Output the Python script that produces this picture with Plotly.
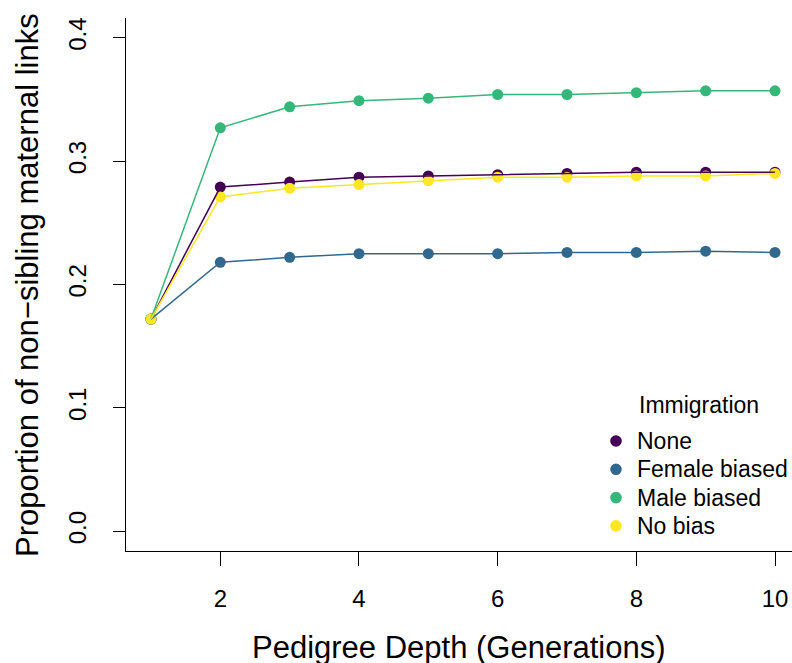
import plotly.graph_objects as go

# Pedigree depth (generations)
depth = [1, 2, 3, 4, 5, 6, 7, 8, 9, 10]

# Proportion of non-sibling maternal links per immigration scenario
none_vals = [0.172, 0.279, 0.283, 0.287, 0.288, 0.289, 0.290, 0.291, 0.291, 0.291]
female_vals = [0.172, 0.218, 0.222, 0.225, 0.225, 0.225, 0.226, 0.226, 0.227, 0.226]
male_vals = [0.172, 0.327, 0.344, 0.349, 0.351, 0.354, 0.354, 0.3555, 0.357, 0.357]
nobias_vals = [0.172, 0.271, 0.278, 0.281, 0.284, 0.287, 0.287, 0.288, 0.288, 0.290]

series_names = ["None", "Female biased", "Male biased", "No bias"]
series_colors = ["#440154", "#31688E", "#35B779", "#FDE725"]
series_values = [none_vals, female_vals, male_vals, nobias_vals]

x_ticks = [2, 4, 6, 8, 10]
y_ticks = [0.0, 0.1, 0.2, 0.3, 0.4]

FONT = "Liberation Sans, Arial, Helvetica, sans-serif"

# plot-area geometry in pixels
W, H = 792, 663
ML, MT, MB = 126, 18, 112
PW, PH = W - ML, H - MT - MB


def px_x(p):
    return (p - ML) / PW


def px_y(p):
    return (H - MB - p) / PH


fig = go.Figure()

# points first, then connecting lines on top
for name, color, vals in zip(series_names, series_colors, series_values):
    fig.add_trace(go.Scatter(
        x=depth, y=vals, mode="markers", name=name,
        marker=dict(color=color, size=11, line=dict(width=0)),
        showlegend=False,
    ))
for name, color, vals in zip(series_names, series_colors, series_values):
    fig.add_trace(go.Scatter(
        x=depth, y=vals, mode="lines", name=name,
        line=dict(color=color, width=1.5),
        showlegend=False, hoverinfo="skip",
    ))

# legend: title, then one dot + label per scenario
legend_top = 441
legend_step = 28.3
shapes = []
annotations = [
    dict(text="Immigration", xref="paper", yref="paper",
         x=px_x(637), y=px_y(405), xanchor="left", yanchor="middle",
         showarrow=False, font=dict(size=23, family=FONT, color="black")),
]
for i, (name, color) in enumerate(zip(series_names, series_colors)):
    cy = px_y(legend_top + i * legend_step)
    shapes.append(dict(
        type="circle", xref="paper", yref="paper",
        xsizemode="pixel", ysizemode="pixel",
        xanchor=px_x(616), yanchor=cy,
        x0=-5.8, x1=5.8, y0=-5.8, y1=5.8,
        fillcolor=color, line=dict(width=0),
    ))
    annotations.append(dict(
        text=name, xref="paper", yref="paper",
        x=px_x(635), y=cy, xanchor="left", yanchor="middle",
        showarrow=False, font=dict(size=23, family=FONT, color="black"),
    ))

annotations += [
    dict(text="Proportion of non\u2212sibling maternal links",
         xref="paper", yref="paper", x=px_x(27), y=px_y(285),
         xanchor="center", yanchor="middle", textangle=-90,
         showarrow=False, font=dict(size=31, family=FONT, color="black")),
    dict(text="Pedigree Depth (Generations)",
         xref="paper", yref="paper", x=px_x(459), y=px_y(647),
         xanchor="center", yanchor="middle",
         showarrow=False, font=dict(size=31, family=FONT, color="black")),
]

fig.update_layout(
    width=W, height=H,
    margin=dict(l=ML, r=0, t=MT, b=MB),
    paper_bgcolor="white", plot_bgcolor="white",
    font=dict(family=FONT, color="black"),
    showlegend=False,
    xaxis=dict(
        range=[0.64, 10.245],
        tickmode="array", tickvals=x_ticks, ticktext=[str(v) for v in x_ticks],
        ticks="outside", ticklen=14, tickwidth=1, tickcolor="black",
        tickfont=dict(size=24, family=FONT, color="black"),
        ticklabelstandoff=12,
        showline=True, linecolor="black", linewidth=1.3, mirror=False,
        showgrid=False, zeroline=False,
    ),
    yaxis=dict(
        range=[-0.016, 0.416],
        tickmode="array", tickvals=y_ticks, ticktext=[f"{v:.1f}" for v in y_ticks],
        ticks="outside", ticklen=12, tickwidth=1, tickcolor="black",
        tickfont=dict(size=24, family=FONT, color="black"),
        tickangle=-90, ticklabelstandoff=17,
        showline=True, linecolor="black", linewidth=1.3, mirror=False,
        showgrid=False, zeroline=False,
    ),
    shapes=shapes,
    annotations=annotations,
)

fig.write_html("out.html")
